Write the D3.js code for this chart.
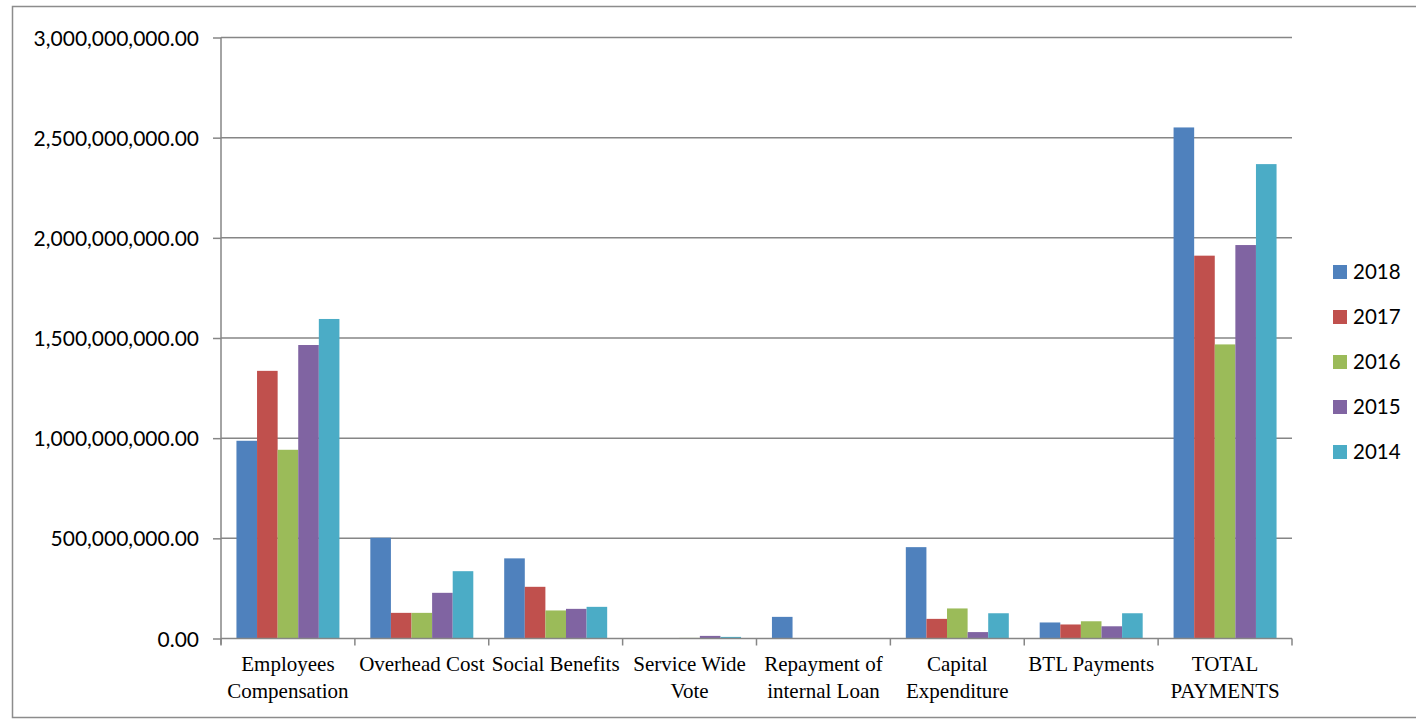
<!DOCTYPE html>
<html>
<head>
<meta charset="utf-8">
<script src="https://cdn.jsdelivr.net/npm/d3@7"></script>
<style>
  body { margin: 0; background: #fff; }
  svg { display: block; }
</style>
</head>
<body>
<div id="chart"></div>
<script>
// == Data ====================================================================

const categories = [
  ['Employees', 'Compensation'],
  ['Overhead Cost'],
  ['Social Benefits'],
  ['Service Wide', 'Vote'],
  ['Repayment of', 'internal Loan'],
  ['Capital', 'Expenditure'],
  ['BTL Payments'],
  ['TOTAL', 'PAYMENTS']
]
const seriesNames = ['2018', '2017', '2016', '2015', '2014']
const seriesColors = ['#4F81BD', '#C0504D', '#9BBB59', '#8064A2', '#4BACC6']

// values per series, one per category
const values2018 = [987e6, 503e6, 400e6, 0, 108e6, 456e6, 80e6, 2551e6]
const values2017 = [1336e6, 128e6, 258e6, 0, 0, 98e6, 70e6, 1911e6]
const values2016 = [942e6, 128e6, 140e6, 3e6, 0, 150e6, 86e6, 1468e6]
const values2015 = [1465e6, 228e6, 148e6, 13e6, 0, 32e6, 61e6, 1964e6]
const values2014 = [1595e6, 336e6, 158e6, 8e6, 0, 126e6, 126e6, 2368e6]

const yTicks = [0, 5e8, 1e9, 1.5e9, 2e9, 2.5e9, 3e9]

// == Layout ==================================================================

const width = 1416
const height = 720
const plot = { left: 221, right: 1292, top: 37.5, bottom: 638.5 }
const gridColor = '#868686'

const svg = d3.select('#chart').append('svg')
  .attr('width', width)
  .attr('height', height)

// outer frame
svg.append('rect')
  .attr('x', 12.5).attr('y', 6.5)
  .attr('width', 1410).attr('height', 711)
  .attr('fill', 'none')
  .attr('stroke', '#8c8c8c')
  .attr('stroke-width', 1.5)

const allValues = [values2018, values2017, values2016, values2015, values2014]
const rows = categories.map((c, i) => ({
  idx: i,
  label: c,
  vals: seriesNames.map((s, j) => ({ series: s, color: seriesColors[j], value: allValues[j][i] }))
}))

const x0 = d3.scaleBand()
  .domain(d3.range(categories.length))
  .range([plot.left, plot.right])

const bw = x0.bandwidth()
const gap = bw * 1.5 / 6.5
const x1 = d3.scaleBand()
  .domain(seriesNames)
  .range([gap / 2, bw - gap / 2])

const y = d3.scaleLinear()
  .domain([0, 3e9])
  .range([plot.bottom, plot.top])

// gridlines
svg.append('g')
  .selectAll('line')
  .data(yTicks.filter(d => d > 0))
  .join('line')
  .attr('x1', plot.left).attr('x2', plot.right)
  .attr('y1', d => y(d)).attr('y2', d => y(d))
  .attr('stroke', gridColor)
  .attr('stroke-width', 1.5)

// bars
const groups = svg.append('g')
  .selectAll('g')
  .data(rows)
  .join('g')
  .attr('transform', d => `translate(${x0(d.idx)},0)`)

groups.selectAll('rect')
  .data(d => d.vals)
  .join('rect')
  .attr('x', d => x1(d.series))
  .attr('width', x1.bandwidth())
  .attr('y', d => y(d.value))
  .attr('height', d => y(0) - y(d.value))
  .attr('fill', d => d.color)

// y axis
const yAxis = svg.append('g')
  .attr('transform', `translate(${plot.left},0)`)
  .call(d3.axisLeft(y)
    .tickValues(yTicks)
    .tickSize(8)
    .tickPadding(14)
    .tickFormat(d3.format(',.2f')))
yAxis.select('.domain')
  .attr('d', `M0,${plot.top}V${plot.bottom + 6}`)
yAxis.selectAll('line, path').attr('stroke', gridColor).attr('stroke-width', 1.5)
yAxis.selectAll('text')
  .attr('font-family', 'Lato, "Open Sans", sans-serif')
  .attr('font-size', '21px')
  .attr('fill', '#000')
  .attr('dy', '0.36em')

// x axis line and tick marks between categories
const xAxis = svg.append('g')
xAxis.append('line')
  .attr('x1', plot.left).attr('x2', plot.right)
  .attr('y1', plot.bottom).attr('y2', plot.bottom)
  .attr('stroke', gridColor).attr('stroke-width', 1.5)
xAxis.selectAll('.tick')
  .data(d3.range(categories.length + 1))
  .join('line')
  .attr('class', 'tick')
  .attr('x1', d => plot.left + d * bw).attr('x2', d => plot.left + d * bw)
  .attr('y1', plot.bottom).attr('y2', plot.bottom + 7)
  .attr('stroke', gridColor).attr('stroke-width', 1.5)

// category labels
const labels = svg.append('g')
  .selectAll('text')
  .data(rows)
  .join('text')
  .attr('transform', d => `translate(${x0(d.idx) + bw / 2},671)`)
  .attr('text-anchor', 'middle')
  .attr('font-family', '"Liberation Serif", "Times New Roman", serif')
  .attr('font-size', '21px')
  .attr('fill', '#000')
labels.selectAll('tspan')
  .data(d => d.label)
  .join('tspan')
  .attr('x', 0)
  .attr('y', (d, i) => i * 26.5)
  .text(d => d)

// legend
const legend = svg.append('g')
  .selectAll('g')
  .data(seriesNames)
  .join('g')
  .attr('transform', (d, i) => `translate(1333,${272 + i * 45})`)
legend.append('rect')
  .attr('x', 0).attr('y', -7)
  .attr('width', 14).attr('height', 14)
  .attr('fill', (d, i) => seriesColors[i])
legend.append('text')
  .attr('x', 20)
  .attr('dy', '0.36em')
  .attr('font-family', 'Lato, "Open Sans", sans-serif')
  .attr('font-size', '20.5px')
  .attr('fill', '#000')
  .text(d => d)
</script>
</body>
</html>
